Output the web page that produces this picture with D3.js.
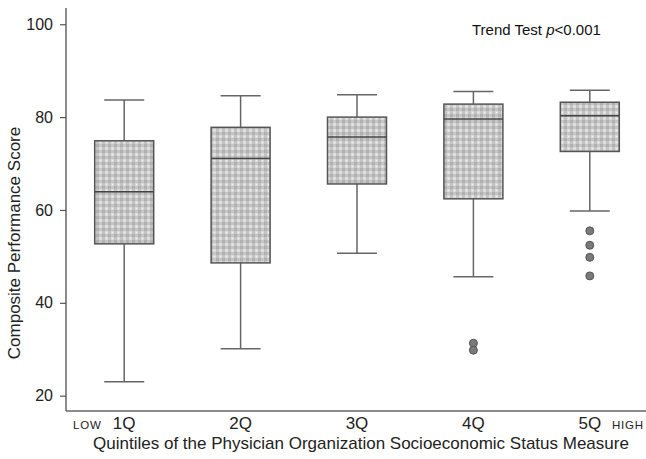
<!DOCTYPE html>
<html>
<head>
<meta charset="utf-8">
<script src="https://cdn.jsdelivr.net/npm/d3@7"></script>
<style>
  body { margin: 0; background: #fff; }
  text { font-family: "Liberation Sans", Arial, sans-serif; }
</style>
</head>
<body>
<div id="my_dataviz"></div>
<script>
// data
var quintiles = ["1Q", "2Q", "3Q", "4Q", "5Q"];
var whiskerHigh = [83.7, 84.6, 84.8, 85.5, 85.8];
var q3 = [74.9, 77.8, 80.0, 82.8, 83.2];
var medians = [63.9, 71.1, 75.7, 79.6, 80.3];
var q1 = [52.7, 48.6, 65.6, 62.4, 72.6];
var whiskerLow = [23.0, 30.1, 50.7, 45.6, 59.8];
var outliers = [[], [], [], [31.3, 29.8], [55.5, 52.4, 49.8, 45.8]];
var yTicks = [20, 40, 60, 80, 100];

var width = 646, height = 459;

var svg = d3.select("#my_dataviz")
  .append("svg")
    .attr("width", width)
    .attr("height", height);

// checkered fill for the boxes
var defs = svg.append("defs");
var pat = defs.append("pattern")
  .attr("id", "check")
  .attr("patternUnits", "userSpaceOnUse")
  .attr("width", 6)
  .attr("height", 6);
pat.append("rect").attr("width", 6).attr("height", 6).attr("fill", "#dadada");
pat.append("rect").attr("x", 0).attr("y", 0).attr("width", 3).attr("height", 6).attr("fill", "#c4c4c4");
pat.append("rect").attr("x", 0).attr("y", 0).attr("width", 6).attr("height", 3).attr("fill", "#c6c6c6");
pat.append("rect").attr("x", 0).attr("y", 0).attr("width", 3).attr("height", 3).attr("fill", "#b0b0b0");
pat.append("rect").attr("x", 4).attr("y", 4).attr("width", 1).attr("height", 1).attr("fill", "#f4f4f4");

var x = d3.scaleBand()
  .domain(quintiles)
  .range([66, 648]);

var y = d3.scaleLinear()
  .domain([16.7, 103.5])
  .range([411, 8]);

var bw = 59, cap = 40;

// axes
var yAxis = svg.append("g")
  .attr("transform", "translate(66,0)")
  .call(d3.axisLeft(y).tickValues(yTicks).tickSize(6).tickPadding(7));
yAxis.select(".domain").attr("stroke", "#666").attr("stroke-width", 1.5)
  .attr("d", "M0,8V411");
yAxis.selectAll(".tick line").attr("stroke", "#555").attr("stroke-width", 1.2);
yAxis.selectAll(".tick text")
  .attr("font-size", "16px")
  .attr("fill", "#222")
  .style("font-family", "'Liberation Sans', Arial, sans-serif");

var xAxis = svg.append("g")
  .attr("transform", "translate(0,411)")
  .call(d3.axisBottom(x).tickSize(0).tickPadding(6));
xAxis.select(".domain").attr("stroke", "#666").attr("stroke-width", 1.5)
  .attr("d", "M66,0H646");
xAxis.selectAll(".tick text")
  .attr("font-size", "17px")
  .attr("fill", "#222")
  .style("font-family", "'Liberation Sans', Arial, sans-serif");

svg.append("text")
  .attr("x", 73)
  .attr("y", 429)
  .attr("font-size", "11.5px")
  .attr("fill", "#222")
  .attr("letter-spacing", "0.8px")
  .text("LOW");

svg.append("text")
  .attr("x", 612)
  .attr("y", 429)
  .attr("font-size", "11.5px")
  .attr("fill", "#222")
  .attr("letter-spacing", "0.8px")
  .text("HIGH");

// axis titles
svg.append("text")
  .attr("x", 361)
  .attr("y", 449)
  .attr("text-anchor", "middle")
  .attr("font-size", "17px")
  .attr("fill", "#222")
  .text("Quintiles of the Physician Organization Socioeconomic Status Measure");

svg.append("text")
  .attr("transform", "translate(20,243) rotate(-90)")
  .attr("text-anchor", "middle")
  .attr("font-size", "17px")
  .attr("fill", "#222")
  .text("Composite Performance Score");

// trend test note
var note = svg.append("text")
  .attr("x", 472)
  .attr("y", 35)
  .attr("font-size", "15px")
  .attr("fill", "#111");
note.append("tspan").text("Trend Test ");
note.append("tspan").attr("font-style", "italic").text("p");
note.append("tspan").text("<0.001");

// boxes
var boxes = svg.selectAll(".box")
  .data(quintiles)
  .enter()
  .append("g")
  .attr("class", "box");

var cx = function(d) { return x(d) + x.bandwidth() / 2; };

// whiskers
boxes.append("line")
  .attr("x1", cx).attr("x2", cx)
  .attr("y1", function(d, i) { return y(whiskerHigh[i]); })
  .attr("y2", function(d, i) { return y(whiskerLow[i]); })
  .attr("stroke", "#666")
  .attr("stroke-width", 1.5);

boxes.append("line")
  .attr("x1", function(d) { return cx(d) - cap / 2; })
  .attr("x2", function(d) { return cx(d) + cap / 2; })
  .attr("y1", function(d, i) { return y(whiskerHigh[i]); })
  .attr("y2", function(d, i) { return y(whiskerHigh[i]); })
  .attr("stroke", "#666")
  .attr("stroke-width", 1.5);

boxes.append("line")
  .attr("x1", function(d) { return cx(d) - cap / 2; })
  .attr("x2", function(d) { return cx(d) + cap / 2; })
  .attr("y1", function(d, i) { return y(whiskerLow[i]); })
  .attr("y2", function(d, i) { return y(whiskerLow[i]); })
  .attr("stroke", "#666")
  .attr("stroke-width", 1.5);

boxes.append("rect")
  .attr("x", function(d) { return cx(d) - bw / 2; })
  .attr("y", function(d, i) { return y(q3[i]); })
  .attr("width", bw)
  .attr("height", function(d, i) { return y(q1[i]) - y(q3[i]); })
  .attr("fill", "url(#check)")
  .attr("stroke", "#555")
  .attr("stroke-width", 1.5);

boxes.append("line")
  .attr("x1", function(d) { return cx(d) - bw / 2; })
  .attr("x2", function(d) { return cx(d) + bw / 2; })
  .attr("y1", function(d, i) { return y(medians[i]); })
  .attr("y2", function(d, i) { return y(medians[i]); })
  .attr("stroke", "#444")
  .attr("stroke-width", 1.5);

// outliers
boxes.each(function(d, i) {
  d3.select(this).selectAll("circle")
    .data(outliers[i])
    .enter()
    .append("circle")
    .attr("cx", cx(d))
    .attr("cy", function(v) { return y(v); })
    .attr("r", 4)
    .attr("fill", "#7a7a7a")
    .attr("stroke", "#555")
    .attr("stroke-width", 1);
});
</script>
</body>
</html>
